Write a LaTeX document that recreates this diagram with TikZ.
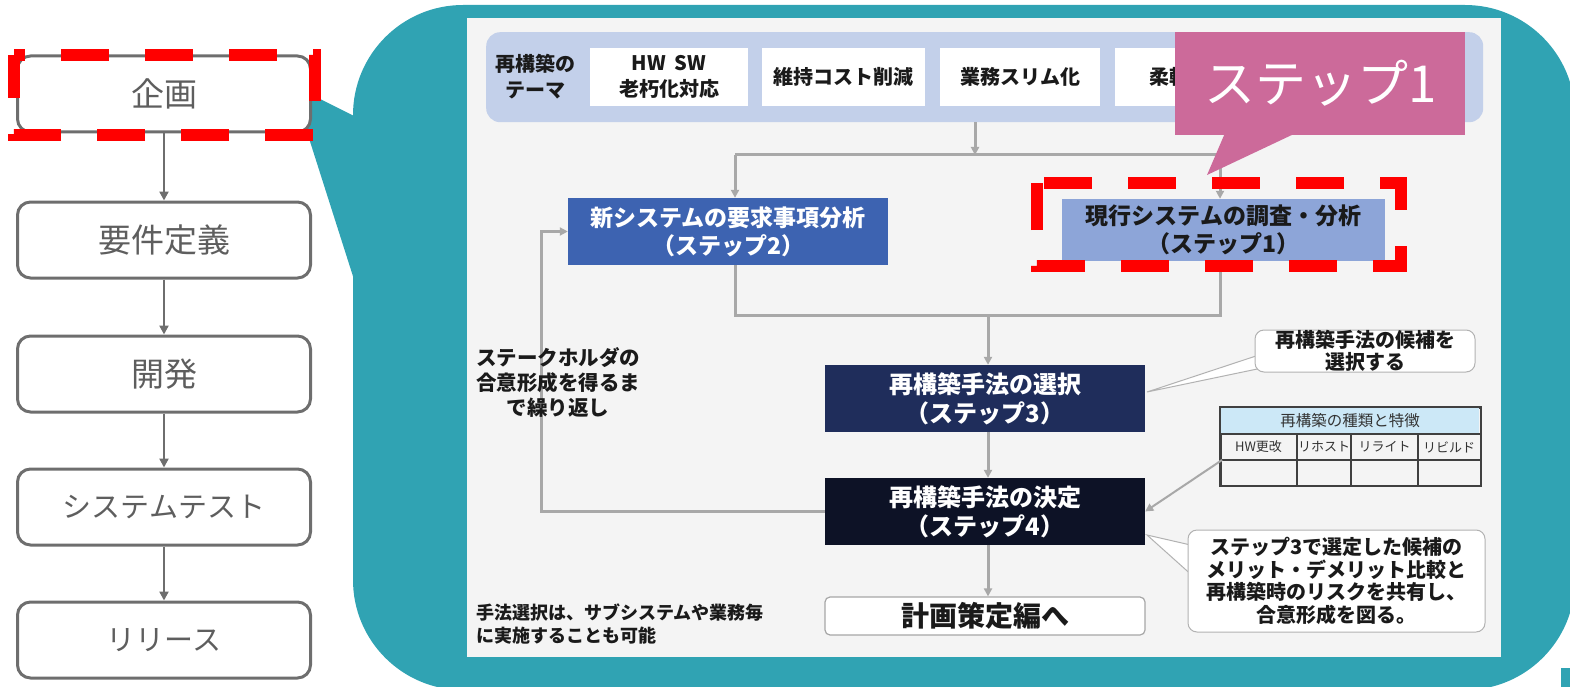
\documentclass[tikz,border=0pt]{standalone}
\usepackage{fontspec}
\setmainfont{Noto Sans CJK JP}
\usetikzlibrary{arrows.meta,calc}
\definecolor{tealbub}{HTML}{30A3B3}
\definecolor{panelbg}{HTML}{F4F4F4}
\definecolor{themebar}{HTML}{C3D0EA}
\definecolor{stwo}{HTML}{3D63B1}
\definecolor{sone}{HTML}{8DA5D8}
\definecolor{sthree}{HTML}{1F2D5B}
\definecolor{sfour}{HTML}{0D1226}
\definecolor{pinkbox}{HTML}{CC6A9A}
\definecolor{conngray}{HTML}{A8A8A8}
\definecolor{lgray}{HTML}{6E6E6E}
\definecolor{ltext}{HTML}{5E5E5E}
\definecolor{tabhead}{HTML}{CCE8F7}
\definecolor{darktext}{HTML}{1A1A1A}
\newcommand{\myfs}[2]{\fontsize{#1}{#2}\selectfont}
\begin{document}
\begin{tikzpicture}[x=1pt,y=-1pt,
  lbox/.style={draw=lgray, line width=3pt, rounded corners=13pt, fill=white, minimum width=293pt, minimum height=76pt, text=ltext, inner sep=0pt},
  larr/.style={draw=lgray, line width=2.5pt, -{Triangle[length=9pt,width=9pt]}},
  conn/.style={draw=conngray, line width=3pt},
  carr/.style={conn, -{Triangle[length=8pt,width=8pt]}},
  stepbox/.style={minimum width=320pt, minimum height=67pt, inner sep=0pt, align=center, font=\bfseries\myfs{23}{28}},
  themebox/.style={fill=white, minimum height=58pt, inner sep=0pt, align=center, font=\bfseries\myfs{20}{26}, text=darktext},
  callout/.style={fill=white, draw=black!30, line width=1pt, rounded corners=9pt, inner sep=0pt, align=center, font=\bfseries\myfs{20}{22.5}, text=darktext},
  reddash/.style={draw=red, line width=11.5pt, dash pattern=on 48pt off 36pt},
  wedge/.style={fill=white, draw=black!30, line width=1pt}]
\useasboundingbox (0,0) rectangle (1570,687);
% teal speech bubble
\begin{scope}
\clip (0,0) rectangle (1570,687);
\fill[tealbub] (292,85) -- (358,118) -- (358,292) -- cycle;
\fill[tealbub, rounded corners=110pt] (353,5) rectangle (1575,690);
\end{scope}
\fill[tealbub] (1561,668) rectangle (1570,687);
% inner panel
\fill[panelbg] (467,18) rectangle (1501,657);

% left flow
\node[lbox, font=\myfs{33}{36}] (p1) at (164,94) {企画};
\node[lbox, font=\myfs{33}{36}] (p2) at (164,240) {要件定義};
\node[lbox, font=\myfs{33}{36}] (p3) at (164,374) {開発};
\node[lbox, font=\myfs{29}{32}] (p4) at (164,507) {システムテスト};
\node[lbox, font=\myfs{29}{32}] (p5) at (164,640) {リリース};
\draw[larr] (p1) -- (p2);
\draw[larr] (p2) -- (p3);
\draw[larr] (p3) -- (p4);
\draw[larr] (p4) -- (p5);
\draw[reddash, dash phase=37pt] (14,55) -- (315,55) -- (315,135) -- (14,135) -- cycle;

% theme bar
\node[fill=themebar, rounded corners=14pt, minimum width=997pt, minimum height=90pt, inner sep=0pt, anchor=north west] (bar) at (486,32) {};
\node[font=\bfseries\myfs{20}{26}, align=center, text=darktext] (tlab) at (535,77) {再構築の\\テーマ};
\node[themebox, minimum width=158pt] (t1) at (669,77) {HW\ \ SW\\老朽化対応};
\node[themebox, minimum width=163pt] (t2) at (843.5,77) {維持コスト削減};
\node[themebox, minimum width=160pt] (t3) at (1020,77) {業務スリム化};
\node[themebox, minimum width=160pt] (t4) at (1195,77) {};
\node[font=\bfseries\myfs{20}{26}, text=darktext, anchor=west, inner sep=0pt] (t4t) at (1149,77) {柔軟};

% step boxes
\node[stepbox, fill=stwo, text=white] (s2) at (728,231.5) {新システムの要求事項分析\\（ステップ2）};
\node[stepbox, fill=sone, text=darktext, minimum width=323pt, minimum height=62pt] (s1) at (1223.5,230) {現行システムの調査・分析\\（ステップ1）};
\node[stepbox, fill=sthree, text=white, font=\bfseries\myfs{24}{29}] (s3) at (985,398.5) {再構築手法の選択\\（ステップ3）};
\node[stepbox, fill=sfour, text=white, font=\bfseries\myfs{24}{29}] (s4) at (985,511.5) {再構築手法の決定\\（ステップ4）};
\node[fill=white, draw=black!35, line width=1.2pt, rounded corners=5pt, minimum width=320pt, minimum height=38pt, inner sep=0pt, font=\bfseries\myfs{28}{30}, text=darktext] (plan) at (985,616) {計画策定編へ};

% connectors
\coordinate (j1) at (975,155);
\coordinate (jL) at (735,155);
\coordinate (jR) at (1220,155);
\coordinate (bL) at (735,315);
\coordinate (bR) at (1220,315);
\coordinate (bM) at (988,315);
\coordinate (lp) at (541,400);
\draw[conn] (jL) -- (jR);
\draw[carr] (bar.south -| j1) -- (j1);
\draw[carr] (jL) -- (s2.north -| jL);
\draw[carr] (jR) -- (s1.north -| jR);
\draw[conn] (s2.south -| bL) -- (bL) -- (bR) -- (s1.south -| bR);
\draw[carr] (bM) -- (s3.north -| bM);
\draw[carr] (s3.south -| bM) -- (s4.north -| bM);
\draw[carr] (s4.south -| bM) -- (plan.north -| bM);
\draw[carr] (s4.west) -- (s4.west -| lp) -- (s2.west -| lp) -- (s2.west);

% left notes
\node[font=\bfseries\myfs{20.5}{25}, align=center, text=darktext] (loopnote) at (558,382) {ステークホルダの\\合意形成を得るま\\で繰り返し};
\node[font=\bfseries\myfs{18}{23}, align=left, text=darktext, anchor=west, inner sep=0pt] (bnote) at (476,624) {手法選択は、サブシステムや業務毎\\に実施することも可能};

% callout 1
\filldraw[wedge] (1147,392) -- (1262,354) -- (1262,368) -- cycle;
\node[callout, minimum width=220pt, minimum height=42pt] (c1) at (1365,351) {再構築手法の候補を\\選択する};
% table
\node[draw=black!75, line width=1.5pt, minimum width=260pt, minimum height=78pt, inner sep=0pt, anchor=north west] (tbl) at (1220,407) {};
\fill[tabhead] (1220.75,407.75) rectangle (1479.25,434);
\draw[black!75, line width=1.5pt] (1220,434) -- (1480,434);
\draw[black!75, line width=1.5pt] (1220,460) -- (1480,460);
\draw[black!75, line width=1.5pt] (1297,434) -- (1297,485);
\draw[black!75, line width=1.5pt] (1351,434) -- (1351,485);
\draw[black!75, line width=1.5pt] (1418,434) -- (1418,485);
\draw[black!75, line width=1.5pt] (tbl.north west) rectangle (tbl.south east);
\node[font=\myfs{15.5}{17}, text=black!80] (th) at (1350,420.5) {再構築の種類と特徴};
\node[font=\myfs{13}{15}, text=black!80] (tc1) at (1258.5,447) {HW更改};
\node[font=\myfs{13}{15}, text=black!80] (tc2) at (1324,447) {リホスト};
\node[font=\myfs{13}{15}, text=black!80] (tc3) at (1384.5,447) {リライト};
\node[font=\myfs{13}{15}, text=black!80] (tc4) at (1449,447) {リビルド};
\coordinate (ta) at (1222,460);
\draw[carr, line width=2pt] (ta) -- (s4.east);
% callout 2
\filldraw[wedge] (1147,535) -- (1195,546) -- (1195,578) -- cycle;
\node[callout, minimum width=297pt, minimum height=102pt] (c2) at (1336.5,581) {ステップ3で選定した候補の\\メリット・デメリット比較と\\再構築時のリスクを共有し、\\合意形成を図る。};

% red dashed around step 1
\draw[reddash, dash phase=77pt] (1037,183) -- (1401,183) -- (1401,266) -- (1037,266) -- cycle;

% pink label
\fill[pinkbox] (1225,133) -- (1207,175) -- (1296,133) -- cycle;
\node[fill=pinkbox, minimum width=290pt, minimum height=103pt, inner sep=0pt, anchor=north west, text=white, font=\myfs{51}{55}] (st1) at (1175,32) {ステップ1};
\end{tikzpicture}
\end{document}
